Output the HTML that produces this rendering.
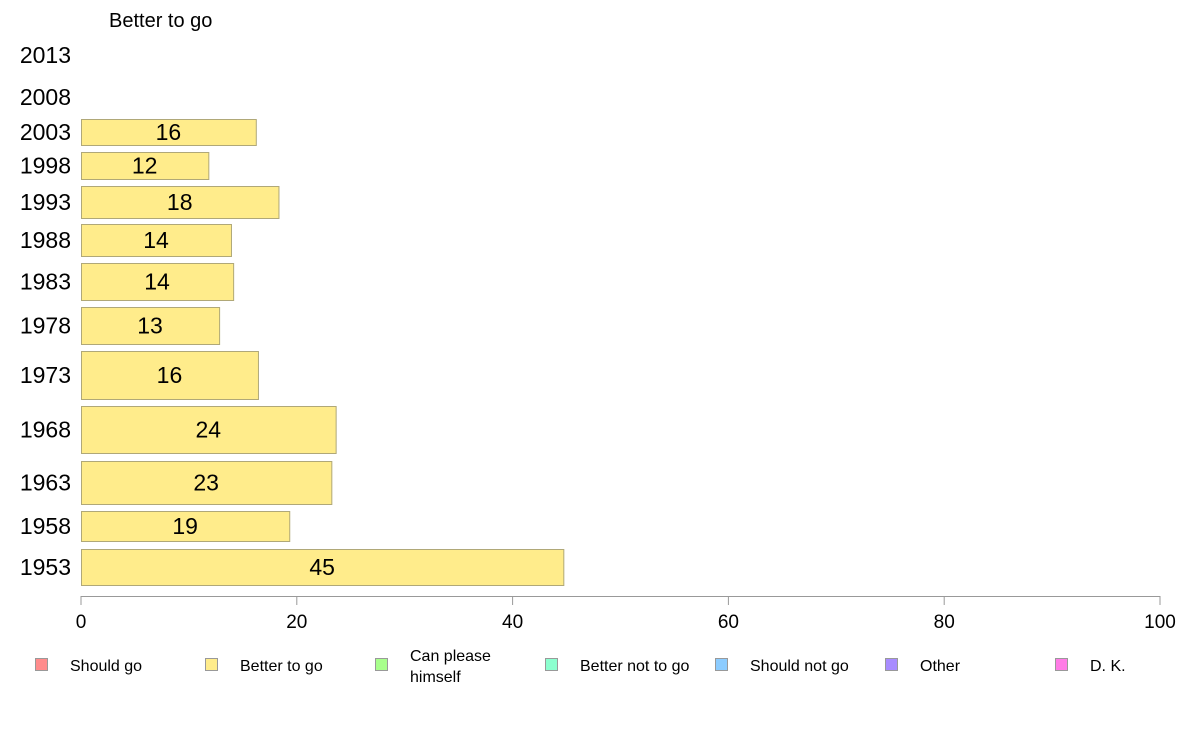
<!DOCTYPE html>
<html><head><meta charset="utf-8"><style>
body{margin:0;background:#fff;}
svg{display:block;font-family:"Liberation Sans",Arial,sans-serif;}
</style></head><body>
<svg id="chart" width="1188" height="736" viewBox="0 0 1188 736">
<text x="109" y="27" font-size="20" fill="#000">Better to go</text>
<g id="bars"></g>
<g id="axis"></g>
<g id="legend"></g>
</svg>
<script>
const years = ["2013","2008","2003","1998","1993","1988","1983","1978","1973","1968","1963","1958","1953"];
const values = [null,null,16.2,11.8,18.3,13.9,14.1,12.8,16.4,23.6,23.2,19.3,44.7];
const valueLabels = ["","","16","12","18","14","14","13","16","24","23","19","45"];
const xTicks = [0,20,40,60,80,100];
const legendLabels = ["Should go","Better to go","Can please|himself","Better not to go","Should not go","Other","D. K."];
const legendColors = ["#ff8c8c","#ffec8b","#a8ff8c","#8cffcf","#8cccff","#a88cff","#ff7ce6"];
// layout: row band tops/bottoms in pixels
const rowTop = [41,83,119,152,186,224,263,307,351,406,461,511,549];
const rowBot = [69,111,145,179,218,256,300,344,399,453,504,541,585];

const NS="http://www.w3.org/2000/svg";
const x0=81,x1=1160;
const xs=v=>x0+(v/100)*(x1-x0);
function mk(tag,attrs,parent){const e=document.createElementNS(NS,tag);for(const k in attrs)e.setAttribute(k,attrs[k]);parent.appendChild(e);return e;}
const bars=document.getElementById('bars');
years.forEach((y,i)=>{
  const cy=(rowTop[i]+rowBot[i])/2;
  const t=mk('text',{x:71,y:cy+8,'font-size':23,'text-anchor':'end',fill:'#000'},bars);
  t.textContent=y;
  
  
  if(values[i]!=null){
    const r=mk('rect',{x:x0+0.5,y:rowTop[i]+0.5,width:xs(values[i])-x0,height:rowBot[i]-rowTop[i],fill:'#ffec8b',stroke:'#b0a878','stroke-width':1},bars);
    
    
    const l=mk('text',{x:(x0+xs(values[i]))/2,y:cy+8,'font-size':23,'text-anchor':'middle',fill:'#000'},bars);
    l.textContent=valueLabels[i];
    
    
  }
});
const ax=document.getElementById('axis');
mk('line',{x1:x0,x2:x1,y1:596.5,y2:596.5,stroke:'#999','stroke-width':1},ax);
xTicks.forEach(v=>{
  const tl=mk('line',{x1:xs(v),x2:xs(v),y1:596,y2:605,stroke:'#999','stroke-width':1},ax);
  
  
  const tt=mk('text',{x:xs(v),y:628,'font-size':19,'text-anchor':'middle',fill:'#000'},ax);
  tt.textContent=v;
  
  
});
const lg=document.getElementById('legend');
legendLabels.forEach((lab,i)=>{
  const bx=35+i*170;
  const g=mk('g',{},lg);
  
  
  mk('rect',{x:bx+0.5,y:658.5,width:12,height:12,fill:legendColors[i],stroke:'#999','stroke-width':1},g);
  const parts=lab.split('|');
  if(parts.length===1){
    const t=mk('text',{x:bx+35,y:671,'font-size':16,fill:'#000'},g);t.textContent=lab;
  } else {
    const t=mk('text',{x:bx+35,y:661,'font-size':16,fill:'#000'},g);t.textContent=parts[0];
    const t2=mk('text',{x:bx+35,y:682,'font-size':16,fill:'#000'},g);t2.textContent=parts[1];
  }
});
</script>
</body></html>
